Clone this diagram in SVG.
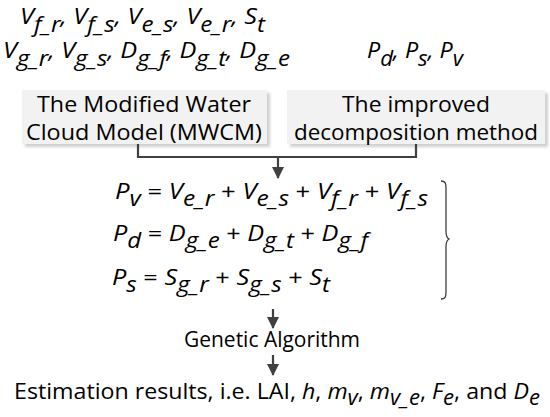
<svg xmlns="http://www.w3.org/2000/svg" width="550" height="417" viewBox="0 0 550 417">
<defs>
<style>
.t{font-family:"Open Sans","Noto Sans","Liberation Sans",sans-serif;fill:#000;}
.i{font-style:italic;}
.box{fill:#f2f2f2;}
.sh{fill:#cfcfcf;}
.ln{fill:none;stroke:#404040;stroke-width:2.2;}
</style>
<marker id="ah" markerWidth="12" markerHeight="12" refX="11" refY="6" orient="auto" markerUnits="userSpaceOnUse" viewBox="0 0 12 12">
<path d="M0,0 L12,6 L0,12 z" fill="#404040"/>
</marker>
<filter id="blur" x="-10%" y="-10%" width="120%" height="130%"><feGaussianBlur stdDeviation="1.5"/></filter>
</defs>
<rect width="550" height="417" fill="#fff"/>

<g id="vars-top">
<text class="t i" font-size="22" x="20" y="24" textLength="245" lengthAdjust="spacingAndGlyphs">V<tspan font-size="21" dy="8">f_r</tspan><tspan dy="-8">, V</tspan><tspan font-size="21" dy="8">f_s</tspan><tspan dy="-8">, V</tspan><tspan font-size="21" dy="8">e_s</tspan><tspan dy="-8">, V</tspan><tspan font-size="21" dy="8">e_r</tspan><tspan dy="-8">, S</tspan><tspan font-size="21" dy="8">t</tspan></text>
<text class="t i" font-size="22" x="3" y="58" textLength="287" lengthAdjust="spacingAndGlyphs">V<tspan font-size="21" dy="8">g_r</tspan><tspan dy="-8">, V</tspan><tspan font-size="21" dy="8">g_s</tspan><tspan dy="-8">, D</tspan><tspan font-size="21" dy="8">g_f</tspan><tspan dy="-8">, D</tspan><tspan font-size="21" dy="8">g_t</tspan><tspan dy="-8">, D</tspan><tspan font-size="21" dy="8">g_e</tspan></text>
</g>

<g id="vars-p">
<text class="t i" font-size="22" x="367" y="58" textLength="96" lengthAdjust="spacingAndGlyphs">P<tspan font-size="21" dy="8">d</tspan><tspan dy="-8">, P</tspan><tspan font-size="21" dy="8">s</tspan><tspan dy="-8">, P</tspan><tspan font-size="21" dy="8">v</tspan></text>
</g>

<g id="mwcm">
<rect class="sh" x="25" y="93" width="245" height="54" filter="url(#blur)"/>
<rect class="box" x="22" y="90" width="245" height="54"/>
<text class="t" font-size="22" x="144" y="112" text-anchor="middle" textLength="214" lengthAdjust="spacingAndGlyphs">The Modified Water</text>
<text class="t" font-size="22" x="144" y="140" text-anchor="middle" textLength="236" lengthAdjust="spacingAndGlyphs">Cloud Model (MWCM)</text>
</g>

<g id="decomp">
<rect class="sh" x="290" y="93" width="258" height="54" filter="url(#blur)"/>
<rect class="box" x="287" y="90" width="258" height="54"/>
<text class="t" font-size="22" x="416" y="112" text-anchor="middle" textLength="148" lengthAdjust="spacingAndGlyphs">The improved</text>
<text class="t" font-size="22" x="416" y="140" text-anchor="middle" textLength="244" lengthAdjust="spacingAndGlyphs">decomposition method</text>
</g>

<g id="connectors">
<path class="ln" d="M138,144 V157 H416 V144"/>
<path class="ln" d="M278,157 V178" marker-end="url(#ah)"/>
<path class="ln" d="M273,309 V328" marker-end="url(#ah)"/>
<path class="ln" d="M273,355 V375" marker-end="url(#ah)"/>
<path fill="none" stroke="#404040" stroke-width="1.3" d="M441,181 C446,181 446,184 446,190 V231 C446,236 447,238 449,239 C447,240 446,242 446,247 V290 C446,296 446,299 441,299"/>
</g>

<g id="equations">
<text class="t i" font-size="22" x="115" y="199" textLength="313" lengthAdjust="spacingAndGlyphs">P<tspan font-size="21" dy="7">v</tspan><tspan dy="-7" font-style="normal"> = </tspan><tspan>V</tspan><tspan font-size="21" dy="7">e_r</tspan><tspan dy="-7" font-style="normal"> + </tspan><tspan>V</tspan><tspan font-size="21" dy="7">e_s</tspan><tspan dy="-7" font-style="normal"> + </tspan><tspan>V</tspan><tspan font-size="21" dy="7">f_r</tspan><tspan dy="-7" font-style="normal"> + </tspan><tspan>V</tspan><tspan font-size="21" dy="7">f_s</tspan></text>
<text class="t i" font-size="22" x="113" y="241" textLength="255" lengthAdjust="spacingAndGlyphs">P<tspan font-size="21" dy="7">d</tspan><tspan dy="-7" font-style="normal"> = </tspan><tspan>D</tspan><tspan font-size="21" dy="7">g_e</tspan><tspan dy="-7" font-style="normal"> + </tspan><tspan>D</tspan><tspan font-size="21" dy="7">g_t</tspan><tspan dy="-7" font-style="normal"> + </tspan><tspan>D</tspan><tspan font-size="21" dy="7">g_f</tspan></text>
<text class="t i" font-size="22" x="112" y="285" textLength="218" lengthAdjust="spacingAndGlyphs">P<tspan font-size="21" dy="7">s</tspan><tspan dy="-7" font-style="normal"> = </tspan><tspan>S</tspan><tspan font-size="21" dy="7">g_r</tspan><tspan dy="-7" font-style="normal"> + </tspan><tspan>S</tspan><tspan font-size="21" dy="7">g_s</tspan><tspan dy="-7" font-style="normal"> + </tspan><tspan>S</tspan><tspan font-size="21" dy="7">t</tspan></text>
</g>

<g id="ga">
<text class="t" font-size="22" x="272" y="347" text-anchor="middle" textLength="176" lengthAdjust="spacingAndGlyphs">Genetic Algorithm</text>
</g>

<g id="results">
<text class="t" font-size="22" x="14" y="399" textLength="526" lengthAdjust="spacingAndGlyphs">Estimation results, i.e. LAI, <tspan class="i">h</tspan>, <tspan class="i">m</tspan><tspan class="i" font-size="21" dy="6">v</tspan><tspan dy="-6">,  </tspan><tspan class="i">m</tspan><tspan class="i" font-size="21" dy="6">v_e</tspan><tspan dy="-6">, </tspan><tspan class="i">F</tspan><tspan class="i" font-size="21" dy="6">e</tspan><tspan dy="-6">, and </tspan><tspan class="i">D</tspan><tspan class="i" font-size="21" dy="6">e</tspan></text>
</g>
</svg>
